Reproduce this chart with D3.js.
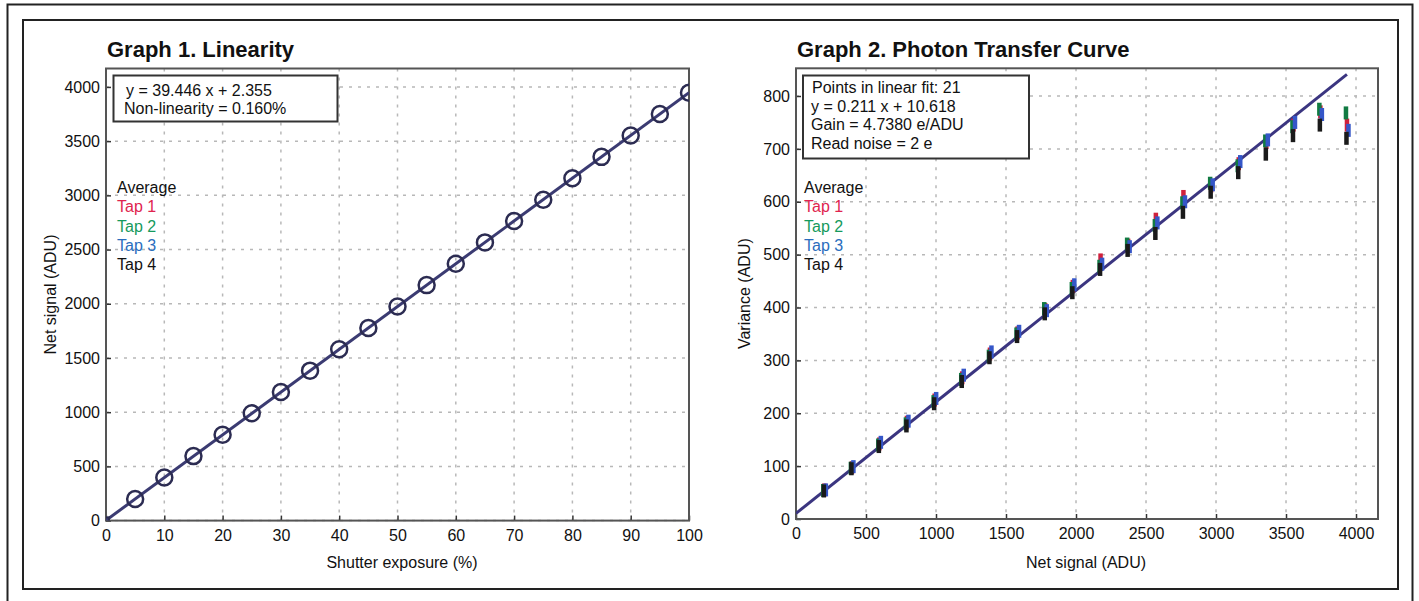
<!DOCTYPE html>
<html><head><meta charset="utf-8">
<script src="https://cdnjs.cloudflare.com/ajax/libs/d3/7.8.5/d3.min.js"></script>
<style>
body{margin:0;background:#fff;}
svg text{font-family:"Liberation Sans",Arial,sans-serif;}
</style></head>
<body><svg id="c" width="1419" height="601"></svg>
<script>
// ---------- Data ----------
const exposure = [0,5,10,15,20,25,30,35,40,45,50,55,60,65,70,75,80,85,90,95,100];
const netSignal = [2,200,397,595,792,990,1186,1383,1580,1777,1975,2172,2369,2566,2763,2960,3158,3355,3552,3750,3947];
const linFitX = [0,100];
const linFitY = [2.355,3946.955];
const linLegend = ["y = 39.446 x + 2.355","Non-linearity = 0.160%"];

const ptcSignal = [197,394,590,787,985,1182,1380,1577,1775,1972,2170,2367,2565,2762,2960,3157,3354,3548,3740,3930];
const tap1 = [55,97,142,183,225,267,312,352,396,440,490,518,567,610,630,672,712,745,770,745];
const tap2 = [54,96,140,180,222,264,308,350,398,436,478,520,555,598,635,668,715,742,775,768];
const tap3 = [55,99,145,185,228,272,316,355,394,443,482,515,560,600,632,676,717,750,765,735];
const tap4 = [53,95,137,176,218,260,305,345,388,428,472,508,540,580,618,655,690,725,745,720];
const ptcFitX = [0,3935];
const ptcFitY = [10.618,840.9];
const ptcLegend = ["Points in linear fit: 21","y = 0.211 x + 10.618","Gain = 4.7380 e/ADU","Read noise = 2 e"];

const seriesNames = ["Average","Tap 1","Tap 2","Tap 3","Tap 4"];
const seriesColors = ["#111","#e0234e","#159a5c","#2a6dbd","#111"];

const xTicks1 = [0,10,20,30,40,50,60,70,80,90,100];
const yTicks1 = [0,500,1000,1500,2000,2500,3000,3500,4000];
const xTicks2 = [0,500,1000,1500,2000,2500,3000,3500,4000];
const yTicks2 = [0,100,200,300,400,500,600,700,800];

// ---------- Drawing ----------
const svg = d3.select("#c");
svg.append("rect").attr("x",7.5).attr("y",4.5).attr("width",1405).attr("height",620)
  .attr("fill","none").attr("stroke","#222").attr("stroke-width",2);
svg.append("rect").attr("x",23).attr("y",20).attr("width",1375).attr("height",569)
  .attr("fill","none").attr("stroke","#222").attr("stroke-width",2);

function panel(cfg){
  const x = d3.scaleLinear().domain(cfg.xd).range([cfg.l,cfg.r]);
  const y = d3.scaleLinear().domain(cfg.yd).range([cfg.b,cfg.t]);
  const g = svg.append("g");
  const clipId = "clip"+cfg.id;
  svg.append("clipPath").attr("id",clipId).append("rect")
    .attr("x",cfg.l).attr("y",cfg.t).attr("width",cfg.r-cfg.l).attr("height",cfg.b-cfg.t);
  // grid
  g.append("g").selectAll("line").data(cfg.xt).join("line")
    .attr("x1",d=>x(d)).attr("x2",d=>x(d)).attr("y1",cfg.t).attr("y2",cfg.b)
    .attr("stroke","#b8b8b8").attr("stroke-width",1.5).attr("stroke-dasharray","3,6");
  g.append("g").selectAll("line").data(cfg.yt).join("line")
    .attr("y1",d=>y(d)).attr("y2",d=>y(d)).attr("x1",cfg.l).attr("x2",cfg.r)
    .attr("stroke","#b8b8b8").attr("stroke-width",1.5).attr("stroke-dasharray","3,6");
  // axes
  const fmt = d3.format("d");
  const ax = g.append("g").attr("transform",`translate(0,${cfg.b})`)
    .call(d3.axisBottom(x).tickValues(cfg.xt).tickFormat(fmt).tickSizeInner(-5).tickSizeOuter(0).tickPadding(9));
  const ay = g.append("g").attr("transform",`translate(${cfg.l},0)`)
    .call(d3.axisLeft(y).tickValues(cfg.yt).tickFormat(fmt).tickSizeInner(-5).tickSizeOuter(0).tickPadding(6));
  [ax,ay].forEach(a=>{
    a.select(".domain").remove();
    a.selectAll("line").attr("stroke","#333").attr("stroke-width",1.5);
    a.selectAll("text").attr("font-size",16).attr("fill","#111")
      .attr("font-family","'Liberation Sans',Arial,sans-serif");
  });
  // box
  g.append("rect").attr("x",cfg.l).attr("y",cfg.t).attr("width",cfg.r-cfg.l).attr("height",cfg.b-cfg.t)
    .attr("fill","none").attr("stroke","#555").attr("stroke-width",2);
  // titles
  g.append("text").attr("x",cfg.l+1).attr("y",57).attr("font-size",22).attr("font-weight","bold")
    .attr("fill","#111").text(cfg.title);
  g.append("text").attr("x",cfg.xlc).attr("y",568).attr("text-anchor","middle")
    .attr("font-size",16).attr("fill","#111").text(cfg.xlabel);
  g.append("text").attr("transform",`translate(${cfg.yl},${(cfg.t+cfg.b)/2}) rotate(-90)`)
    .attr("text-anchor","middle")
    .attr("font-size",16).attr("fill","#111").text(cfg.ylabel);
  // series legend
  g.append("g").selectAll("text").data(seriesNames).join("text")
    .attr("x",cfg.l+(cfg.id==1?11:8)).attr("y",(d,i)=>193+i*19.3)
    .attr("font-size",16).attr("fill",(d,i)=>seriesColors[i]).text(d=>d);
  return {x,y,g,clip:`url(#${clipId})`};
}

// Graph 1
const p1 = panel({id:1,l:106,r:689,t:68.5,b:520.6,xd:[0,100],yd:[0,4170],xt:xTicks1,yt:yTicks1,
  title:"Graph 1. Linearity",xlabel:"Shutter exposure (%)",ylabel:"Net signal (ADU)",yl:56,xlc:402});
const d1 = p1.g.append("g").attr("clip-path",p1.clip);
d1.append("path").datum(linFitX.map((v,i)=>[v,linFitY[i]]))
  .attr("d",d3.line().x(d=>p1.x(d[0])).y(d=>p1.y(d[1])))
  .attr("stroke","#3b3b72").attr("stroke-width",3).attr("fill","none");
d1.selectAll("circle").data(exposure.map((v,i)=>[v,netSignal[i]]).filter(d=>d[0]>0)).join("circle")
  .attr("cx",d=>p1.x(d[0])).attr("cy",d=>p1.y(d[1])).attr("r",8)
  .attr("fill","none").attr("stroke","#2c2c52").attr("stroke-width",2.5);
d1.append("rect").attr("x",p1.x(exposure[0])-3).attr("y",p1.y(netSignal[0])-3).attr("width",6).attr("height",6)
  .attr("fill","none").attr("stroke","#2c2c52").attr("stroke-width",2);
// legend box 1
p1.g.append("rect").attr("x",113.5).attr("y",75.5).attr("width",224).attr("height",46)
  .attr("fill","#fff").attr("stroke","#333").attr("stroke-width",2);
p1.g.selectAll(".lt").data(linLegend).join("text").attr("class","lt")
  .attr("x",(d,i)=>i==0?126:124).attr("y",(d,i)=>96+i*18).attr("font-size",16).attr("fill","#111").text(d=>d);

// Graph 2
const p2 = panel({id:2,l:796,r:1378,t:68.3,b:519,xd:[0,4157],yd:[0,852.4],xt:xTicks2,yt:yTicks2,
  title:"Graph 2. Photon Transfer Curve",xlabel:"Net signal (ADU)",ylabel:"Variance (ADU)",yl:750,xlc:1086});
const d2 = p2.g.append("g").attr("clip-path",p2.clip);
d2.append("path").datum(ptcFitX.map((v,i)=>[v,ptcFitY[i]]))
  .attr("d",d3.line().x(d=>p2.x(d[0])).y(d=>p2.y(d[1])))
  .attr("stroke","#3b3580").attr("stroke-width",3).attr("fill","none");
const taps = [tap1,tap2,tap3,tap4];
const tapOffsets = [0.5,-0.5,2,0];
const tapColors = ["#d0203c","#117a42","#3556c8","#1a1a1a"];
taps.forEach((arr,k)=>{
  d2.append("g").selectAll("rect").data(arr.map((v,i)=>[ptcSignal[i],v])).join("rect")
    .attr("x",d=>p2.x(d[0])-2+tapOffsets[k]).attr("y",d=>p2.y(d[1])-6.5)
    .attr("width",4.5).attr("height",13).attr("fill",tapColors[k]);
});
// legend box 2
p2.g.append("rect").attr("x",803).attr("y",75.5).attr("width",226).attr("height",83)
  .attr("fill","#fff").attr("stroke","#333").attr("stroke-width",2);
p2.g.selectAll(".lt").data(ptcLegend).join("text").attr("class","lt")
  .attr("x",(d,i)=>i==0?812:811).attr("y",(d,i)=>93+i*18.7).attr("font-size",16).attr("fill","#111").text(d=>d);
</script></body></html>
